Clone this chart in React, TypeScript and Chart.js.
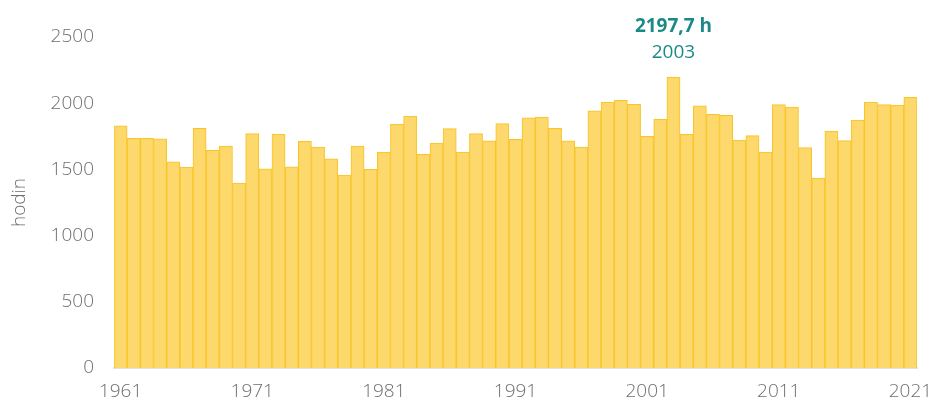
import React, { useEffect, useRef } from "react";
import { Chart, registerables } from "chart.js";

Chart.register(...registerables);

const years: string[] = [];
for (let y = 1961; y <= 2021; y++) years.push(String(y));

const sunshineHours: number[] = [
  1829, 1735, 1735, 1730, 1558, 1518, 1810, 1644, 1677, 1397,
  1770, 1505, 1767, 1520, 1712, 1669, 1579, 1458, 1677, 1501,
  1631, 1843, 1903, 1614, 1699, 1808, 1631, 1770, 1715, 1846,
  1727, 1890, 1896, 1810, 1715, 1669, 1943, 2009, 2022, 1992,
  1750, 1878, 2197.7, 1765, 1981, 1916, 1908, 1722, 1755, 1631,
  1989, 1971, 1664, 1435, 1788, 1717, 1873, 2009, 1989, 1986,
  2045,
];

const yTicks: number[] = [0, 500, 1000, 1500, 2000, 2500];
const highlightYear = "2003";
const axisTitle = "hodin";

const FONT = "'Open Sans', sans-serif";
const GREY = "#6e6e6e";
const TEAL = "#1b8a86";

const annotationPlugin = {
  id: "peakAnnotation",
  afterDatasetsDraw(chart: any) {
    const idx = years.indexOf(highlightYear);
    const el = chart.getDatasetMeta(0).data[idx];
    if (!el) return;
    const ctx = chart.ctx;
    const v = sunshineHours[idx];
    ctx.save();
    ctx.textAlign = "center";
    ctx.textBaseline = "middle";
    ctx.fillStyle = TEAL;
    ctx.font = `700 19px ${FONT}`;
    ctx.fillText(`${v.toFixed(1).replace(".", ",")} h`, el.x, el.y - 50);
    ctx.font = `400 19px ${FONT}`;
    ctx.fillText(highlightYear, el.x, el.y - 24);
    ctx.restore();
  },
};

export default function App() {
  const ref = useRef<HTMLCanvasElement | null>(null);
  useEffect(() => {
    document.documentElement.style.overflow = "hidden";
    if (!ref.current) return;
    const chart = new Chart(ref.current, {
      type: "bar",
      data: {
        labels: years,
        datasets: [
          {
            data: sunshineHours,
            backgroundColor: "rgba(253, 214, 100, 0.95)",
            borderColor: "#f8c52a",
            borderWidth: 1,
            barPercentage: 1,
            categoryPercentage: 1,
          },
        ],
      },
      options: {
        animation: false,
        responsive: true,
        maintainAspectRatio: false,
        layout: { padding: { top: 37, right: 17, left: 8, bottom: 0 } },
        plugins: { legend: { display: false }, tooltip: { enabled: false } },
        scales: {
          x: {
            grid: { display: false, drawTicks: false },
            border: { display: true, color: "#e2e2e2", width: 2 },
            ticks: {
              autoSkip: false,
              maxRotation: 0,
              padding: 12,
              color: GREY,
              font: { family: FONT, size: 19, weight: "300" as any },
              callback: (_v: any, i: number) =>
                (Number(years[i]) - 1961) % 10 === 0 ? years[i] : null,
            },
            afterFit: (s: any) => {
              s.height = 38;
              s.paddingLeft = 0;
              s.paddingRight = 0;
            },
          },
          y: {
            min: 0,
            max: 2500,
            afterBuildTicks: (s: any) => {
              s.ticks = yTicks.map((v) => ({ value: v }));
            },
            grid: { display: false, drawTicks: false },
            border: { display: false },
            ticks: {
              padding: 20,
              color: GREY,
              font: { family: FONT, size: 19, weight: "300" as any },
              callback: (v: any) => String(v),
            },
            title: {
              display: true,
              text: axisTitle,
              color: GREY,
              font: { family: FONT, size: 19, weight: "300" as any },
              padding: 0,
            },
            afterFit: (s: any) => {
              s.width = 106;
              s.paddingTop = 0;
              s.paddingBottom = 0;
            },
          },
        },
      },
      plugins: [annotationPlugin],
    });
    return () => chart.destroy();
  }, []);
  return (
    <div style={{ position: "absolute", left: 0, top: 0, width: 934, height: 406 }}>
      <canvas ref={ref} />
    </div>
  );
}
